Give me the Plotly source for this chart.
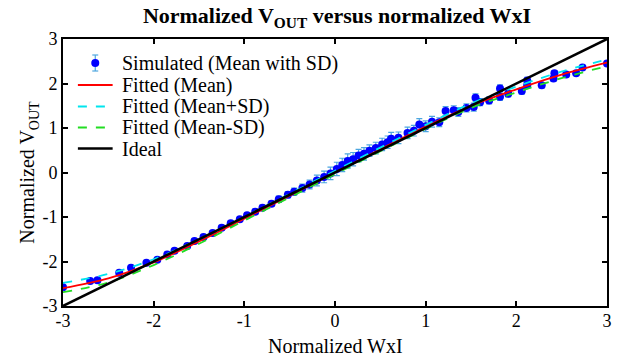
import plotly.graph_objects as go

# Simulated points (mean with SD)
sim_x = [-3.0, -2.7, -2.62, -2.38, -2.25, -2.08, -1.96, -1.85, -1.77, -1.63, -1.55, -1.45,
         -1.35, -1.25, -1.15, -1.05, -0.97, -0.88, -0.8, -0.7, -0.62, -0.52, -0.45, -0.36,
         -0.28, -0.2, -0.12, -0.05, 0.02, 0.08, 0.14, 0.2, 0.26, 0.32, 0.38, 0.45, 0.52,
         0.58, 0.62, 0.7, 0.8, 0.87, 0.93, 1.0, 1.07, 1.15, 1.22, 1.31, 1.36, 1.45, 1.53,
         1.55, 1.6, 1.7, 1.82, 1.82, 1.91, 2.06, 2.12, 2.12, 2.28, 2.41, 2.42, 2.55, 2.66,
         2.73, 3.0]
sim_y = [-2.58, -2.44, -2.42, -2.25, -2.14, -2.03, -1.96, -1.84, -1.76, -1.65, -1.54, -1.45,
         -1.36, -1.24, -1.14, -1.05, -0.96, -0.88, -0.79, -0.70, -0.60, -0.50, -0.43, -0.35,
         -0.27, -0.18, -0.10, -0.02, 0.08, 0.17, 0.26, 0.30, 0.38, 0.42, 0.49, 0.55, 0.63,
         0.68, 0.76, 0.78, 0.89, 0.94, 1.08, 1.04, 1.14, 1.13, 1.38, 1.40, 1.36, 1.45, 1.47,
         1.68, 1.58, 1.62, 1.89, 1.70, 1.77, 1.83, 2.07, 1.96, 1.96, 2.11, 2.23, 2.20, 2.23,
         2.36, 2.45]
sim_sd = [0.04, 0.04, 0.04, 0.04, 0.04, 0.04, 0.04, 0.05, 0.05, 0.05, 0.05, 0.05,
          0.05, 0.05, 0.05, 0.05, 0.05, 0.06, 0.06, 0.06, 0.07, 0.07, 0.08, 0.09,
          0.1, 0.12, 0.13, 0.14, 0.15, 0.15, 0.16, 0.15, 0.14, 0.14, 0.13, 0.13, 0.14,
          0.14, 0.14, 0.13, 0.13, 0.12, 0.13, 0.12, 0.12, 0.1, 0.1, 0.1, 0.1, 0.09, 0.09,
          0.09, 0.08, 0.08, 0.08, 0.08, 0.07, 0.07, 0.07, 0.07, 0.06, 0.06, 0.06, 0.05, 0.05,
          0.05, 0.05]

# Fitted curves sampled
fit_x = [-3, -2.5, -2, -1.5, -1, -0.5, 0, 0.5, 1, 1.5, 2, 2.5, 3]
fit_mean = [-2.6, -2.38, -2.02, -1.55, -1.04, -0.52, 0.0, 0.52, 1.03, 1.5, 1.87, 2.2, 2.47]
fit_plus = [-2.48, -2.28, -1.95, -1.5, -1.0, -0.48, 0.04, 0.56, 1.07, 1.55, 1.93, 2.27, 2.54]
fit_minus = [-2.69, -2.47, -2.08, -1.6, -1.08, -0.56, -0.04, 0.48, 0.98, 1.45, 1.8, 2.12, 2.39]

ideal_x = [-3, 3]
ideal_y = [-3, 3]

tick_vals = [-3, -2, -1, 0, 1, 2, 3]
tick_text = ["-3", "-2", "-1", "0", "1", "2", "3"]

legend_labels = ["Simulated (Mean with SD)", "Fitted (Mean)", "Fitted (Mean+SD)",
                 "Fitted (Mean-SD)", "Ideal"]

FONT = "Liberation Serif, Times New Roman, serif"
BLUE = "#0000ff"
EBAR = "#4da6df"
RED = "#ff0000"
CYAN = "#00e5ee"
GREEN = "#22dd22"

W, H = 624, 358
ML, MR, MT, MB = 63, 13, 39, 52
PW, PH = W - ML - MR, H - MT - MB


def px(xp):
    return (xp - ML) / PW


def py(yp):
    return (H - MB - yp) / PH


fig = go.Figure()
fig.add_trace(go.Scatter(
    x=sim_x, y=sim_y, mode="markers", name=legend_labels[0],
    marker=dict(color=BLUE, size=8),
    error_y=dict(type="data", array=sim_sd, visible=True, color=EBAR, thickness=1.2, width=3),
))
fig.add_trace(go.Scatter(x=fit_x, y=fit_mean, mode="lines", name=legend_labels[1],
                         line=dict(color=RED, width=1.8, shape="spline")))
fig.add_trace(go.Scatter(x=fit_x, y=fit_plus, mode="lines", name=legend_labels[2],
                         line=dict(color=CYAN, width=1.8, dash="dash", shape="spline")))
fig.add_trace(go.Scatter(x=fit_x, y=fit_minus, mode="lines", name=legend_labels[3],
                         line=dict(color=GREEN, width=1.8, dash="dash", shape="spline")))
fig.add_trace(go.Scatter(x=ideal_x, y=ideal_y, mode="lines", name=legend_labels[4],
                         line=dict(color="#000000", width=2.5)))

# Manual legend (MATLAB-like compact spacing)
rows = [63, 85, 106.5, 127.5, 148.5]
shapes = []
annotations = []
sym_x0, sym_x1, txt_x = 78, 113, 120
mx = (sym_x0 + sym_x1) / 2
shapes.append(dict(type="line", xref="paper", yref="paper", x0=px(mx), x1=px(mx),
                   y0=py(rows[0] - 8), y1=py(rows[0] + 8), line=dict(color=EBAR, width=1.2)))
for dy in (-8, 8):
    shapes.append(dict(type="line", xref="paper", yref="paper", x0=px(mx - 3), x1=px(mx + 3),
                       y0=py(rows[0] + dy), y1=py(rows[0] + dy), line=dict(color=EBAR, width=1.2)))
shapes.append(dict(type="circle", xref="paper", yref="paper", xsizemode="pixel", ysizemode="pixel",
                   xanchor=px(mx), yanchor=py(rows[0]), x0=-4, x1=4, y0=-4, y1=4,
                   fillcolor=BLUE, line=dict(width=0)))
line_styles = [(RED, "solid", 1.8), (CYAN, "dash", 1.8), (GREEN, "dash", 1.8), ("#000000", "solid", 2.5)]
for r, (c, d, w) in zip(rows[1:], line_styles):
    shapes.append(dict(type="line", xref="paper", yref="paper", x0=px(sym_x0), x1=px(sym_x1),
                       y0=py(r), y1=py(r), line=dict(color=c, width=w, dash=d)))
for r, lab in zip(rows, legend_labels):
    annotations.append(dict(text=lab, xref="paper", yref="paper", x=px(txt_x), y=py(r),
                            xanchor="left", yanchor="middle", showarrow=False,
                            font=dict(family=FONT, size=20, color="black")))

# x-axis title placed as annotation so it stays inside the canvas
annotations.append(dict(text="Normalized WxI", xref="paper", yref="paper", x=0.5, y=py(358),
                        xanchor="center", yanchor="bottom", showarrow=False, borderpad=0,
                        font=dict(family=FONT, size=20, color="black")))

axis_common = dict(
    showline=True, linecolor="black", linewidth=2, mirror="ticks",
    ticks="inside", ticklen=5, tickwidth=2, tickcolor="black",
    showgrid=False, zeroline=False, range=[-3, 3],
    tickmode="array", tickvals=tick_vals, ticktext=tick_text,
    tickfont=dict(family=FONT, size=18, color="black"),
    ticklabeloverflow="allow",
)

fig.update_layout(
    width=W, height=H,
    margin=dict(l=ML, r=MR, t=MT, b=MB),
    paper_bgcolor="white", plot_bgcolor="white",
    title=dict(text="<b>Normalized V<sub>OUT</sub> versus normalized WxI</b>",
               x=(ML + PW / 2) / W, xanchor="center", y=0.978, yanchor="top",
               font=dict(family=FONT, size=22, color="black")),
    xaxis=dict(**axis_common, ticklabelstandoff=-3),
    yaxis=dict(**axis_common, title=dict(text="Normalized V<sub>OUT</sub>", standoff=2,
                                         font=dict(family=FONT, size=20, color="black"))),
    showlegend=False,
    shapes=shapes,
    annotations=annotations,
)

fig.write_html("out.html", config={"displayModeBar": False},
               post_script="document.body.style.margin='0';document.body.style.overflow='hidden';")
